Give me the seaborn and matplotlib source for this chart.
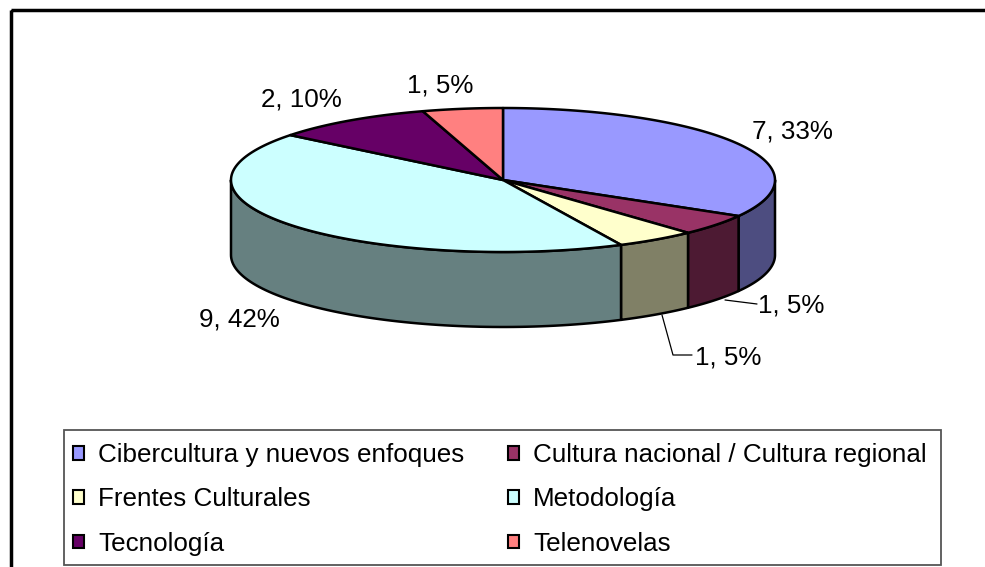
import numpy as np
import matplotlib
matplotlib.use("Agg")
import matplotlib.pyplot as plt
import seaborn as sns
from matplotlib.patches import Polygon, Patch, Rectangle

# ---- data ----
categories = ["Cibercultura y nuevos enfoques", "Cultura nacional / Cultura regional",
              "Frentes Culturales", "Metodología", "Tecnología", "Telenovelas"]
values = [7, 1, 1, 9, 2, 1]
pct_labels = ["33%", "5%", "5%", "42%", "10%", "5%"]
top_colors = ["#9999FF", "#993366", "#FFFFCC", "#CCFFFF", "#660066", "#FF8080"]
side_colors = ["#4D4D80", "#4D1A33", "#808066", "#668080", "#330033", "#804040"]

sns.set_theme(style="white")
plt.rcParams['font.family'] = ['Liberation Sans', 'DejaVu Sans']
plt.rcParams['text.color'] = 'black'

W, H = 985, 567
fig = plt.figure(figsize=(W / 100, H / 100), dpi=100)
ax = fig.add_axes([0, 0, 1, 1])
ax.set_xlim(0, W)
ax.set_ylim(H, 0)
ax.axis("off")

# geometry (layout)
cx, cy, rx, ry, depth = 503.0, 180.0, 272.0, 72.0, 75.0
fs = 18.7


def pt(theta_deg, dz=0.0):
    t = np.radians(theta_deg)
    return cx + rx * np.sin(t), cy - ry * np.cos(t) + dz


vals = np.array(values, dtype=float)
angles = np.concatenate([[0], np.cumsum(vals) / vals.sum() * 360.0])

# side walls (visible front half: 90..270 deg clockwise from top)
for i in range(len(values)):
    a0, a1 = max(angles[i], 90.0), min(angles[i + 1], 270.0)
    if a1 <= a0:
        continue
    th = np.linspace(a0, a1, 80)
    upper = [pt(t) for t in th]
    lower = [pt(t, depth) for t in th[::-1]]
    ax.add_patch(Polygon(upper + lower, closed=True, facecolor=side_colors[i],
                         edgecolor="black", linewidth=1.8, joinstyle="round"))

# top face
for i in range(len(values)):
    th = np.linspace(angles[i], angles[i + 1], 120)
    poly = [(cx, cy)] + [pt(t) for t in th]
    ax.add_patch(Polygon(poly, closed=True, facecolor=top_colors[i],
                         edgecolor="black", linewidth=1.8, joinstyle="round"))

# data labels
label_pos = [(792, 131), (791, 305), (728, 357), (239, 320), (301, 99), (440, 85)]
for i, (x, y) in enumerate(label_pos):
    ax.text(x, y, f"{values[i]}, {pct_labels[i]}", fontsize=fs, ha="center",
            va="center", color="black")

# leader lines
ax.plot([725, 757], [300, 304], color="black", lw=0.9)
ax.plot([662, 673, 692], [315, 355, 355], color="black", lw=0.9)

# outer chart border
ax.add_patch(Rectangle((10.5, 9.5), 1000, 600, fill=False, edgecolor="black",
                       linewidth=2.5, clip_on=False))

# legend frame
ax.add_patch(Rectangle((64, 430), 877, 135, fill=False, edgecolor="#555555",
                       linewidth=1.3))

# legend (row-wise order like the reference)
order = [0, 2, 4, 1, 3, 5]
handles = [Patch(facecolor=top_colors[i], edgecolor="black", linewidth=1.5) for i in order]
labels = [categories[i] for i in order]
leg = fig.legend(handles, labels, ncol=2, loc="upper left",
                 bbox_to_anchor=(64 / W, 1 - 434 / H),
                 fontsize=fs, frameon=False,
                 handlelength=0.42, handleheight=0.42, handletextpad=0.55,
                 labelspacing=0.78, borderpad=0.35, borderaxespad=0,
                 columnspacing=1.68)
for t in leg.get_texts():
    t.set_color("black")

fig.savefig("out.png", dpi=100)
